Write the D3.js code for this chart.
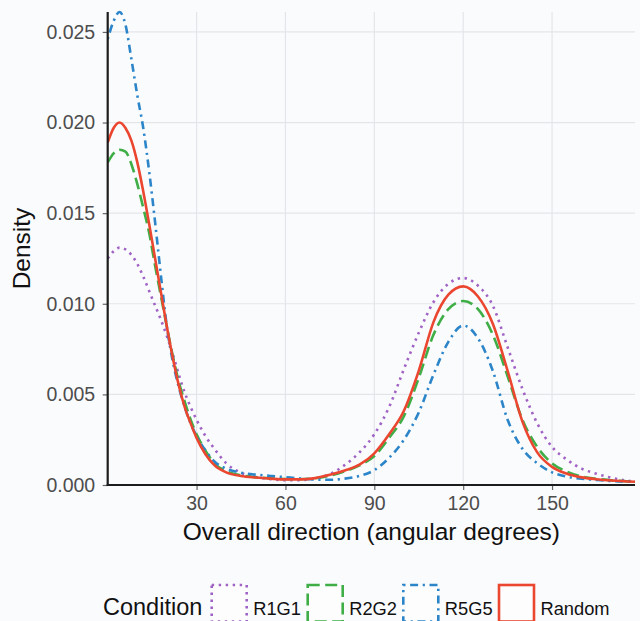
<!DOCTYPE html>
<html>
<head>
<meta charset="utf-8">
<script src="https://cdn.jsdelivr.net/npm/d3@7/dist/d3.min.js"></script>
<style>
  html, body { margin: 0; padding: 0; background: #fafbfd; }
  svg { display: block; }
  text { font-family: "Liberation Sans", Arial, Helvetica, sans-serif; }
</style>
</head>
<body>
<svg id="chart" width="640" height="621"></svg>
<script>
// ---------------- data ----------------
const degrees = [0,2,4,6,8,10,12,14,16,18,20,22,24,26,28,30,33,36,40,45,50,55,60,65,70,75,80,85,90,95,100,105,110,115,120,125,130,135,140,145,150,155,160,165,170,178];

const R1G1 = [0.0125,0.0129,0.0131,0.0130,0.0127,0.0122,0.0115,0.0107,0.0099,0.0091,0.0082,0.0072,0.0061,0.0051,0.0043,0.0036,0.0027,0.0020,0.0012,0.00068,0.00044,0.00032,0.00027,0.00027,0.00036,0.00060,0.0011,0.0018,0.0028,0.0043,0.0064,0.0084,0.0101,0.0111,0.01142,0.0110,0.0099,0.0076,0.0053,0.0034,0.0021,0.0014,0.0009,0.00062,0.00040,0.00018];

const R2G2 = [0.0178,0.0183,0.0185,0.0184,0.0177,0.0166,0.0153,0.0139,0.0121,0.0104,0.0087,0.0071,0.0057,0.0046,0.0036,0.0028,0.0019,0.0012,0.00076,0.00054,0.00043,0.00037,0.00033,0.00032,0.00037,0.00052,0.00076,0.00108,0.0016,0.0026,0.0038,0.0059,0.0083,0.0097,0.01015,0.0097,0.0083,0.0060,0.0036,0.0021,0.0012,0.00074,0.00047,0.00034,0.00026,0.00018];

const R5G5 = [0.0246,0.0256,0.0261,0.0254,0.0235,0.0215,0.0197,0.0173,0.0145,0.0115,0.0087,0.0068,0.0054,0.0043,0.0034,0.0027,0.0019,0.0013,0.0009,0.00068,0.00057,0.00050,0.00043,0.00036,0.00030,0.00029,0.00035,0.00050,0.00082,0.0015,0.0025,0.0040,0.0061,0.0079,0.0088,0.0081,0.0063,0.0036,0.0020,0.0012,0.00070,0.00046,0.00035,0.00028,0.00022,0.00018];

const Random = [0.0189,0.0197,0.0200,0.0197,0.0190,0.0178,0.0162,0.0144,0.0125,0.0106,0.0087,0.0070,0.0055,0.0043,0.0034,0.0026,0.0017,0.0011,0.00070,0.00050,0.00041,0.00035,0.00031,0.00031,0.00038,0.00056,0.00080,0.00112,0.00175,0.0028,0.0041,0.0063,0.0090,0.0105,0.01096,0.0104,0.0089,0.0063,0.0035,0.0018,0.0010,0.00062,0.00042,0.00032,0.00025,0.00018];

const conditions = ["R1G1", "R2G2", "R5G5", "Random"];
const xTicks = [30, 60, 90, 120, 150];
const yTicks = [0, 0.005, 0.010, 0.015, 0.020, 0.025];

// ---------------- styles ----------------
const styles = {
  R1G1:   { color: "#a062c4", dash: "2.4,4.6" },
  R2G2:   { color: "#3fae47", dash: "12,5.5" },
  R5G5:   { color: "#2c85c9", dash: "2.2,4.6,8,4.6" },
  Random: { color: "#ea4630", dash: null }
};

const seriesValues = { R1G1, R2G2, R5G5, Random };
const series = conditions.map(name => ({
  name,
  points: degrees.map((d, i) => ({ x: d, y: seriesValues[name][i] }))
}));

// ---------------- layout ----------------
const svg = d3.select("#chart");
const panel = { left: 107.7, right: 635, top: 12, bottom: 485 };

const x = d3.scaleLinear().domain([0, 178]).range([panel.left, panel.right]);
const y = d3.scaleLinear().domain([0, 0.0261]).range([panel.bottom, panel.top]);

// gridlines
const grid = svg.append("g");
grid.selectAll("line.gx").data(xTicks).join("line")
  .attr("x1", d => x(d)).attr("x2", d => x(d))
  .attr("y1", panel.top).attr("y2", panel.bottom)
  .attr("stroke", "#e4e5ea").attr("stroke-width", 1.2);
grid.selectAll("line.gy").data(yTicks).join("line")
  .attr("x1", panel.left).attr("x2", panel.right)
  .attr("y1", d => y(d)).attr("y2", d => y(d))
  .attr("stroke", "#e4e5ea").attr("stroke-width", 1.2);

// clip
svg.append("defs").append("clipPath").attr("id", "clip")
  .append("rect")
  .attr("x", panel.left).attr("y", panel.top - 2)
  .attr("width", panel.right - panel.left + 4)
  .attr("height", panel.bottom - panel.top + 2);

const line = d3.line()
  .x(d => x(d.x))
  .y(d => y(d.y))
  .curve(d3.curveMonotoneX);

svg.append("g").attr("clip-path", "url(#clip)")
  .selectAll("path").data(series).join("path")
  .attr("d", d => line(d.points))
  .attr("fill", "none")
  .attr("stroke", d => styles[d.name].color)
  .attr("stroke-width", 2.6)
  .attr("stroke-dasharray", d => styles[d.name].dash)
  .attr("stroke-linejoin", "round");

// axes
const xAxis = d3.axisBottom(x).tickValues(xTicks).tickSize(5).tickPadding(6).tickFormat(d3.format("d"));
const yAxis = d3.axisLeft(y).tickValues(yTicks).tickSize(5).tickPadding(7.5).tickFormat(d3.format(".3f"));

const gx = svg.append("g").attr("transform", `translate(0,${panel.bottom})`).call(xAxis);
const gy = svg.append("g").attr("transform", `translate(${panel.left},0)`).call(yAxis);

[gx, gy].forEach(g => {
  g.select(".domain").remove();
  g.selectAll(".tick line").attr("stroke", "#666").attr("stroke-width", 1.2);
  g.selectAll(".tick text")
    .attr("fill", "#4d4d4d")
    .style("font-size", "19.5px")
    .style("font-family", "'Liberation Sans', Arial, sans-serif");
});
gx.selectAll(".tick text").attr("dy", "0.71em");

// axis lines
svg.append("line")
  .attr("x1", panel.left).attr("x2", panel.left)
  .attr("y1", panel.top).attr("y2", panel.bottom + 1)
  .attr("stroke", "#1c1c1c").attr("stroke-width", 2.2);
svg.append("line")
  .attr("x1", panel.left - 1).attr("x2", panel.right)
  .attr("y1", panel.bottom).attr("y2", panel.bottom)
  .attr("stroke", "#1c1c1c").attr("stroke-width", 2.2);

// axis titles
svg.append("text")
  .attr("x", (panel.left + panel.right) / 2).attr("y", 540)
  .attr("text-anchor", "middle")
  .style("font-size", "24.5px").attr("fill", "#111")
  .text("Overall direction (angular degrees)");

svg.append("text")
  .attr("transform", `translate(30,${(panel.top + panel.bottom) / 2}) rotate(-90)`)
  .attr("text-anchor", "middle")
  .style("font-size", "24.5px").attr("fill", "#111")
  .text("Density");

// legend
const legend = svg.append("g");
legend.append("text")
  .attr("x", 103).attr("y", 615)
  .style("font-size", "23.5px").attr("fill", "#111")
  .text("Condition");

const keyX = { R1G1: 211.7, R2G2: 307.7, R5G5: 403.3, Random: 499 };
const items = legend.selectAll("g.item").data(conditions).join("g").attr("class", "item");
items.append("rect")
  .attr("x", d => keyX[d]).attr("y", 585)
  .attr("width", 35).attr("height", 36.5)
  .attr("fill", "#fdfdfe")
  .attr("stroke", d => styles[d].color)
  .attr("stroke-width", 2.6)
  .attr("stroke-dasharray", d => styles[d].dash);
items.append("text")
  .attr("x", d => keyX[d] + 41.5).attr("y", 615)
  .style("font-size", "18.3px").attr("fill", "#111")
  .text(d => d);
</script>
</body>
</html>
